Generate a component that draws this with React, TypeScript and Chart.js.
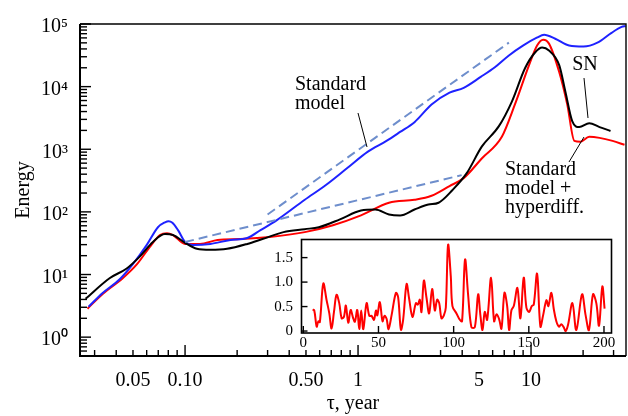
import React, { useEffect, useRef } from "react";
import { Chart, registerables } from "chart.js";

Chart.register(...registerables);

const FONT = '"Liberation Serif", "Times New Roman", serif';

// ---------- main plot data (tau in years, energy) ----------
const blueTau = [0.0277, 0.0334, 0.0419, 0.0498, 0.0601, 0.0697, 0.0765, 0.0803, 0.0845, 0.0911, 0.1, 0.111, 0.14, 0.183, 0.229, 0.273, 0.338, 0.492, 0.652, 0.863, 1.14, 1.46, 1.75, 2.12, 2.66, 3.38, 4.08, 5.12, 6.18, 7.45, 8.98, 10.8, 11.9, 13.8, 16.6, 20.1, 24.2, 29.2, 33.4, 35.2];
const blueE = [3.06, 5.07, 8.4, 14.5, 29.7, 56.9, 68, 71, 67, 51.1, 33.1, 29.7, 30.8, 35.6, 38.3, 51.1, 73.3, 156, 269, 497, 917, 1360, 1890, 2710, 5190, 8000, 9580, 14300, 20400, 31500, 45200, 60400, 67300, 58200, 45200, 43600, 50400, 72300, 89800, 93100];

const blackTau = [0.0266, 0.0366, 0.046, 0.0547, 0.0652, 0.0765, 0.0851, 0.1, 0.117, 0.14, 0.175, 0.229, 0.28, 0.371, 0.492, 0.593, 0.786, 1.04, 1.26, 1.51, 1.75, 2.12, 2.55, 2.92, 3.52, 4.25, 5.19, 6.52, 7.75, 9.23, 10.55, 11.6, 12.7, 14.55, 15.8, 17.3, 19.0, 21.7, 24.9, 28.8];
const blackE = [4.09, 8.72, 12.5, 19.3, 33.1, 44.2, 42.7, 32.0, 25.7, 24.8, 25.7, 30.8, 36.9, 47.5, 53.0, 56.9, 76.0, 105, 109, 91.0, 87.9, 109, 131, 140, 224, 415, 1100, 2340, 5780, 19700, 35100, 42100, 37700, 22000, 8280, 2810, 2260, 2610, 2260, 1960];

const redTau = [0.0273, 0.0334, 0.0436, 0.0526, 0.0626, 0.0716, 0.0786, 0.0851, 0.1, 0.122, 0.154, 0.209, 0.308, 0.492, 0.716, 1.04, 1.51, 2.12, 2.66, 3.38, 4.08, 5.19, 6.78, 8.07, 9.74, 10.84, 11.75, 12.7, 14.55, 16.2, 17.8, 19.3, 21.7, 24.9, 29.6, 34.7];
const redE = [2.85, 4.89, 8.72, 14.5, 27.7, 42.7, 45.8, 42.7, 30.8, 30.8, 35.6, 36.9, 39.7, 47.5, 61.2, 87.9, 140, 156, 181, 259, 346, 713, 1580, 5190, 22000, 45200, 56100, 48600, 17100, 5190, 1360, 1320, 1580, 1520, 1360, 1180];

const dashUpperTau = [0.3, 7.45];
const dashUpperE = [91, 50400];
const dashLowerTau = [0.1, 3.97];
const dashLowerE = [33.1, 386];

const xTickValues = [0.05, 0.1, 0.5, 1, 5, 10];
const xTickLabels = ["0.05", "0.10", "0.50", "1", "5", "10"];
const yTickValues = [1, 10, 100, 1000, 10000, 100000];
const yTickLabels = ["10⁰", "10¹", "10²", "10³", "10⁴", "10⁵"];

// ---------- inset data ----------
const insetX = [6.2, 7.3, 8.9, 10, 11, 13.3, 15.5, 17.3, 18.8, 20.4, 22.1, 23.9, 25.5, 27, 28.3, 29.9, 31.5, 33.2, 34.3, 35.9, 37.2, 38.5, 39.9, 42.1, 43.9, 45.4, 47, 48.3, 49.2, 50.9, 52.7, 54, 55.4, 56.7, 58.7, 61.6, 63.1, 64.9, 66.4, 68.7, 70.4, 72.6, 74.9, 76.2, 77.5, 78.6, 80.2, 81.9, 83.7, 85.7, 87.5, 89, 90.4, 91.9, 93.5, 94.8, 96.3, 98.1, 99.2, 101.9, 104.1, 105.6, 107.6, 109.6, 111.8, 114.1, 116.3, 117.8, 119.2, 120.7, 122.3, 124.9, 126.9, 128.5, 130.2, 131.8, 133.8, 135.6, 136.9, 138.4, 140, 142.4, 144.4, 146.6, 148.4, 150.2, 152, 153.3, 155.5, 157.7, 159.5, 161.7, 163, 165, 166.6, 168.3, 170.1, 171.6, 173.2, 174.5, 176.1, 179, 181.6, 185.4, 187.8, 190, 192.7, 194.9, 196.7, 198.9, 200.4];
const insetY = [0.44, 0.42, 0.09, 0.2, 0.18, 0.97, 0.63, 0.36, 0.05, 0.39, 0.74, 0.57, 0.26, 0.29, 0.52, 0.17, 0.43, 0.26, 0.19, 0.43, 0.04, 0.42, 0.04, 0.57, 0.31, 0.31, 0.23, 0.42, 0.32, 0.59, 0.2, 0.31, 0.25, 0.04, 0.32, 0.78, 0.69, 0.03, 0.23, 0.96, 0.66, 0.29, 0.57, 0.54, 0.64, 0.39, 1.03, 0.69, 0.36, 0.86, 0.42, 0.64, 0.57, 0.26, 0.32, 0.48, 1.76, 1.12, 0.51, 0.36, 0.23, 0.2, 1.46, 0.75, 0.08, 0.08, 0.75, 0.32, 0.02, 0.39, 0.23, 1.09, 0.2, 0.34, 0.25, 0.05, 0.78, 0.51, 0.02, 0.42, 0.51, 0.88, 0.26, 1.09, 0.48, 0.39, 0.51, 0.54, 1.17, 0.09, 0.32, 0.63, 0.51, 0.78, 0.45, 0.2, 0.09, 0.14, 0.08, 0.0, 0.13, 0.57, 0.02, 0.75, 0.32, 0.02, 0.75, 0.57, 0.11, 0.91, 0.46];
const insetXTicks = [0, 50, 100, 150, 200];
const insetXLabels = ["0", "50", "100", "150", "200"];
const insetYTicks = [0, 0.5, 1, 1.5];
const insetYLabels = ["0", "0.5", "1.0", "1.5"];

const BLUE = "#1e22ff";
const RED = "#ff0000";
const BLACK = "#000000";
const DASH = "#6e8ecc";

const toXY = (xs: number[], ys: number[]) => xs.map((x, i) => ({ x, y: ys[i] }));

export default function App() {
  const mainRef = useRef<HTMLCanvasElement>(null);
  const insetRef = useRef<HTMLCanvasElement>(null);

  useEffect(() => {
    const mainDecor = {
      id: "mainDecor",
      afterDraw(chart: any) {
        const ctx = chart.ctx;
        const { left, right, top, bottom } = chart.chartArea;
        const xs = chart.scales.x;
        const ys = chart.scales.y;
        ctx.save();
        ctx.strokeStyle = "#000";
        ctx.lineWidth = 1.4;
        for (let d = -2; d <= 1; d++) {
          for (let m = 1; m <= 9; m++) {
            const v = m * Math.pow(10, d);
            if (v < xs.min || v > xs.max) continue;
            const px = xs.getPixelForValue(v);
            const len = m === 1 ? 11 : 6;
            ctx.beginPath();
            ctx.moveTo(px, bottom);
            ctx.lineTo(px, bottom - len);
            ctx.stroke();
          }
        }
        for (let d = -1; d <= 5; d++) {
          for (let m = 1; m <= 9; m++) {
            const v = m * Math.pow(10, d);
            if (v < ys.min || v > ys.max) continue;
            const py = ys.getPixelForValue(v);
            const len = m === 1 ? 11 : 7;
            ctx.beginPath();
            ctx.moveTo(left, py);
            ctx.lineTo(left + len, py);
            ctx.stroke();
          }
        }
        ctx.lineWidth = 1.4;
        ctx.beginPath();
        ctx.moveTo(left, top);
        ctx.lineTo(right, top);
        ctx.lineTo(right, bottom);
        ctx.stroke();
        ctx.lineWidth = 2;
        ctx.beginPath();
        ctx.moveTo(left, top);
        ctx.lineTo(left, bottom);
        ctx.lineTo(right, bottom);
        ctx.stroke();

        ctx.fillStyle = "#000";
        ctx.font = `20px ${FONT}`;
        ctx.textBaseline = "middle";
        ctx.textAlign = "left";
        ctx.fillText("Standard", 295, 85);
        ctx.fillText("model", 295, 104);
        ctx.textAlign = "center";
        ctx.fillText("SN", 585, 65);
        ctx.textAlign = "left";
        ctx.fillText("Standard", 505, 170);
        ctx.fillText("model +", 505, 189);
        ctx.fillText("hyperdiff.", 505, 208);
        ctx.lineWidth = 1;
        ctx.beginPath();
        ctx.moveTo(358, 113);
        ctx.lineTo(367, 147);
        ctx.moveTo(584, 78);
        ctx.lineTo(588, 118);
        ctx.moveTo(569, 162);
        ctx.lineTo(584, 137);
        ctx.stroke();
        ctx.restore();
      },
    };

    const line = (xs: number[], ys: number[], color: string, extra: any = {}) => ({
      data: toXY(xs, ys),
      borderColor: color,
      borderWidth: 2,
      pointRadius: 0,
      fill: false,
      cubicInterpolationMode: "monotone",
      ...extra,
    });

    const main = new Chart(mainRef.current as HTMLCanvasElement, {
      type: "line",
      data: {
        datasets: [
          line(dashUpperTau, dashUpperE, DASH, { borderDash: [9, 5], cubicInterpolationMode: "default", tension: 0 }),
          line(dashLowerTau, dashLowerE, DASH, { borderDash: [9, 5], cubicInterpolationMode: "default", tension: 0 }),
          line(blackTau, blackE, BLACK),
          line(blueTau, blueE, BLUE),
          line(redTau, redE, RED),
        ] as any,
      },
      options: {
        responsive: false,
        animation: false,
        events: [],
        layout: { padding: { top: 18, right: 2, left: 0, bottom: 0 } },
        plugins: { legend: { display: false }, tooltip: { enabled: false } },
        scales: {
          x: {
            type: "logarithmic",
            min: 0.0247,
            max: 35.4,
            grid: { display: false, drawTicks: false },
            border: { display: false },
            afterBuildTicks: (s: any) => {
              s.ticks = xTickValues.map((v) => ({ value: v }));
            },
            afterFit: (s: any) => {
              s.height = 60;
            },
            ticks: {
              autoSkip: false,
              maxRotation: 0,
              minRotation: 0,
              padding: 13,
              color: "#000",
              font: { family: FONT, size: 20 },
              callback: (_v: any, i: number) => xTickLabels[i],
            },
            title: {
              display: true,
              text: "τ, year",
              color: "#000",
              font: { family: FONT, size: 20 },
              padding: { top: 0, bottom: 0 },
            },
          },
          y: {
            type: "logarithmic",
            min: 0.5,
            max: 100000,
            grid: { display: false, drawTicks: false },
            border: { display: false },
            afterBuildTicks: (s: any) => {
              s.ticks = yTickValues.map((v) => ({ value: v }));
            },
            afterFit: (s: any) => {
              s.width = 80;
            },
            ticks: {
              autoSkip: false,
              padding: 12,
              labelOffset: 3,
              color: "#000",
              font: { family: FONT, size: 20 },
              callback: (_v: any, i: number) => yTickLabels[i],
            },
            title: {
              display: true,
              text: "Energy",
              color: "#000",
              font: { family: FONT, size: 20 },
              padding: { top: 12, bottom: 0 },
            },
          },
        },
      } as any,
      plugins: [mainDecor],
    });

    const insetDecor = {
      id: "insetDecor",
      beforeDraw(chart: any) {
        const ctx = chart.ctx;
        const { left, right, top, bottom } = chart.chartArea;
        ctx.save();
        ctx.fillStyle = "#fff";
        ctx.fillRect(left, top, right - left, bottom - top);
        ctx.restore();
      },
      afterDraw(chart: any) {
        const ctx = chart.ctx;
        const { left, right, top, bottom } = chart.chartArea;
        const xs = chart.scales.x;
        const ys = chart.scales.y;
        ctx.save();
        ctx.strokeStyle = "#000";
        ctx.lineWidth = 1.4;
        insetXTicks.forEach((v) => {
          const px = xs.getPixelForValue(v);
          ctx.beginPath();
          ctx.moveTo(px, bottom);
          ctx.lineTo(px, bottom - 7);
          ctx.stroke();
        });
        insetYTicks.forEach((v) => {
          const py = ys.getPixelForValue(v);
          ctx.beginPath();
          ctx.moveTo(left, py);
          ctx.lineTo(left + 6, py);
          ctx.stroke();
        });
        ctx.lineWidth = 1.6;
        ctx.strokeRect(left, top, right - left, bottom - top);
        ctx.restore();
      },
    };

    const inset = new Chart(insetRef.current as HTMLCanvasElement, {
      type: "line",
      data: {
        datasets: [
          {
            data: toXY(insetX, insetY),
            borderColor: RED,
            borderWidth: 2,
            pointRadius: 0,
            fill: false,
            tension: 0.35,
          },
        ] as any,
      },
      options: {
        responsive: false,
        animation: false,
        events: [],
        layout: { padding: { top: 7, right: 6.5, left: 0, bottom: 0 } },
        plugins: { legend: { display: false }, tooltip: { enabled: false } },
        scales: {
          x: {
            type: "linear",
            min: -1.2,
            max: 205,
            grid: { display: false, drawTicks: false },
            border: { display: false },
            afterBuildTicks: (s: any) => {
              s.ticks = insetXTicks.map((v) => ({ value: v }));
            },
            afterFit: (s: any) => {
              s.height = 23;
            },
            ticks: {
              autoSkip: false,
              maxRotation: 0,
              minRotation: 0,
              padding: 1,
              color: "#000",
              font: { family: FONT, size: 15 },
              callback: (_v: any, i: number) => insetXLabels[i],
            },
          },
          y: {
            type: "linear",
            min: -0.04,
            max: 1.87,
            grid: { display: false, drawTicks: false },
            border: { display: false },
            afterBuildTicks: (s: any) => {
              s.ticks = insetYTicks.map((v) => ({ value: v }));
            },
            afterFit: (s: any) => {
              s.width = 39.5;
            },
            ticks: {
              autoSkip: false,
              padding: 8.5,
              color: "#000",
              font: { family: FONT, size: 15 },
              callback: (_v: any, i: number) => insetYLabels[i],
            },
          },
        },
      } as any,
      plugins: [insetDecor],
    });

    return () => {
      main.destroy();
      inset.destroy();
    };
  }, []);

  return (
    <div
      style={{
        position: "fixed",
        left: 0,
        top: 0,
        width: 628,
        height: 416,
        background: "#fff",
      }}
    >
      <canvas
        ref={mainRef}
        width={628}
        height={416}
        style={{ position: "absolute", left: 0, top: 0, width: 628, height: 416 }}
      />
      <canvas
        ref={insetRef}
        width={356}
        height={134}
        style={{ position: "absolute", left: 262, top: 222, width: 356, height: 134 }}
      />
    </div>
  );
}
